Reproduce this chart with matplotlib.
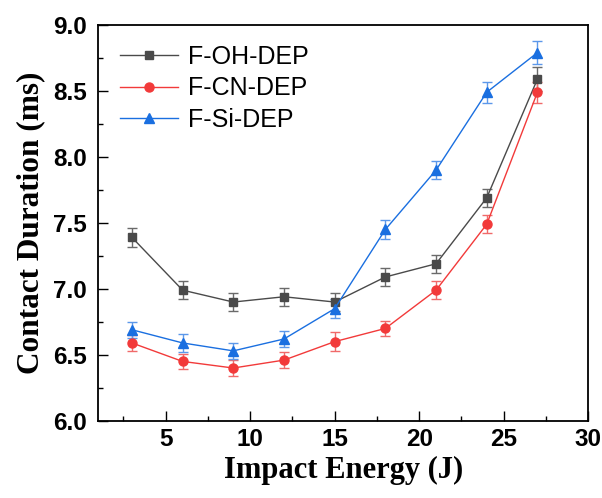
import matplotlib
matplotlib.use('Agg')
import matplotlib.pyplot as plt
from matplotlib.ticker import MultipleLocator, FormatStrFormatter

# impact energy (J)
energy = [3, 6, 9, 12, 15, 18, 21, 24, 27]

# contact duration (ms)
oh_dep = [7.39, 6.99, 6.90, 6.94, 6.90, 7.09, 7.19, 7.69, 8.59]
cn_dep = [6.59, 6.45, 6.40, 6.46, 6.60, 6.70, 6.99, 7.49, 8.49]
si_dep = [6.69, 6.59, 6.53, 6.62, 6.85, 7.45, 7.90, 8.49, 8.79]

# error bars
oh_err = [0.07, 0.07, 0.07, 0.07, 0.07, 0.07, 0.07, 0.07, 0.09]
cn_err = [0.06, 0.06, 0.06, 0.06, 0.07, 0.06, 0.07, 0.07, 0.08]
si_err = [0.06, 0.07, 0.06, 0.06, 0.07, 0.07, 0.07, 0.08, 0.085]

series = [
    ("F-OH-DEP", oh_dep, oh_err, '#4a4a4a', '#6a6a6a', 's', 6),
    ("F-CN-DEP", cn_dep, cn_err, '#f23a3a', '#f06a6a', 'o', 6.5),
    ("F-Si-DEP", si_dep, si_err, '#1a6fe0', '#5c98ea', '^', 7.5),
]

fig = plt.figure(figsize=(6.02, 4.98), dpi=100)
ax = fig.add_axes([0.163, 0.155, 0.814, 0.795])

handles = []
for name, y, e, c, ec, m, ms in series:
    eb = ax.errorbar(energy, y, yerr=e, color=c, ecolor=ec, marker=m, markersize=ms,
                     linewidth=1.0, elinewidth=1.0, capsize=3.5, capthick=1.0, label=name)
    handles.append(eb[0])  # line only, no error bar in legend

ax.set_xlim(1, 30)
ax.set_ylim(6.0, 9.0)
ax.xaxis.set_major_locator(MultipleLocator(5))
ax.xaxis.set_minor_locator(MultipleLocator(2.5))
ax.yaxis.set_major_locator(MultipleLocator(0.5))
ax.yaxis.set_minor_locator(MultipleLocator(0.25))
ax.yaxis.set_major_formatter(FormatStrFormatter('%.1f'))
ax.tick_params(which='both', direction='in', width=1.0)
ax.tick_params(which='major', length=7)
ax.tick_params(which='minor', length=3.5)
ax.tick_params(axis='x', pad=5)
ax.tick_params(axis='y', pad=8)
for s in ax.spines.values():
    s.set_linewidth(1.3)

for lab in ax.get_xticklabels() + ax.get_yticklabels():
    lab.set_fontfamily('Liberation Sans')
    lab.set_fontweight('bold')
    lab.set_fontsize(17.5)

ax.set_xlabel('Impact Energy (J)', fontfamily='Liberation Serif', fontweight='bold',
              fontsize=22, labelpad=4)
ax.set_ylabel('Contact Duration (ms)', fontfamily='Liberation Serif', fontweight='bold',
              fontsize=22.5, labelpad=6)

leg = ax.legend(handles, [s[0] for s in series], loc='upper left',
                bbox_to_anchor=(0.025, 0.975), frameon=False,
                handlelength=2.3, prop={'family': 'Liberation Sans', 'size': 18},
                borderaxespad=0, labelspacing=0.3, handletextpad=0.4)

fig.savefig('out.png', dpi=100)
